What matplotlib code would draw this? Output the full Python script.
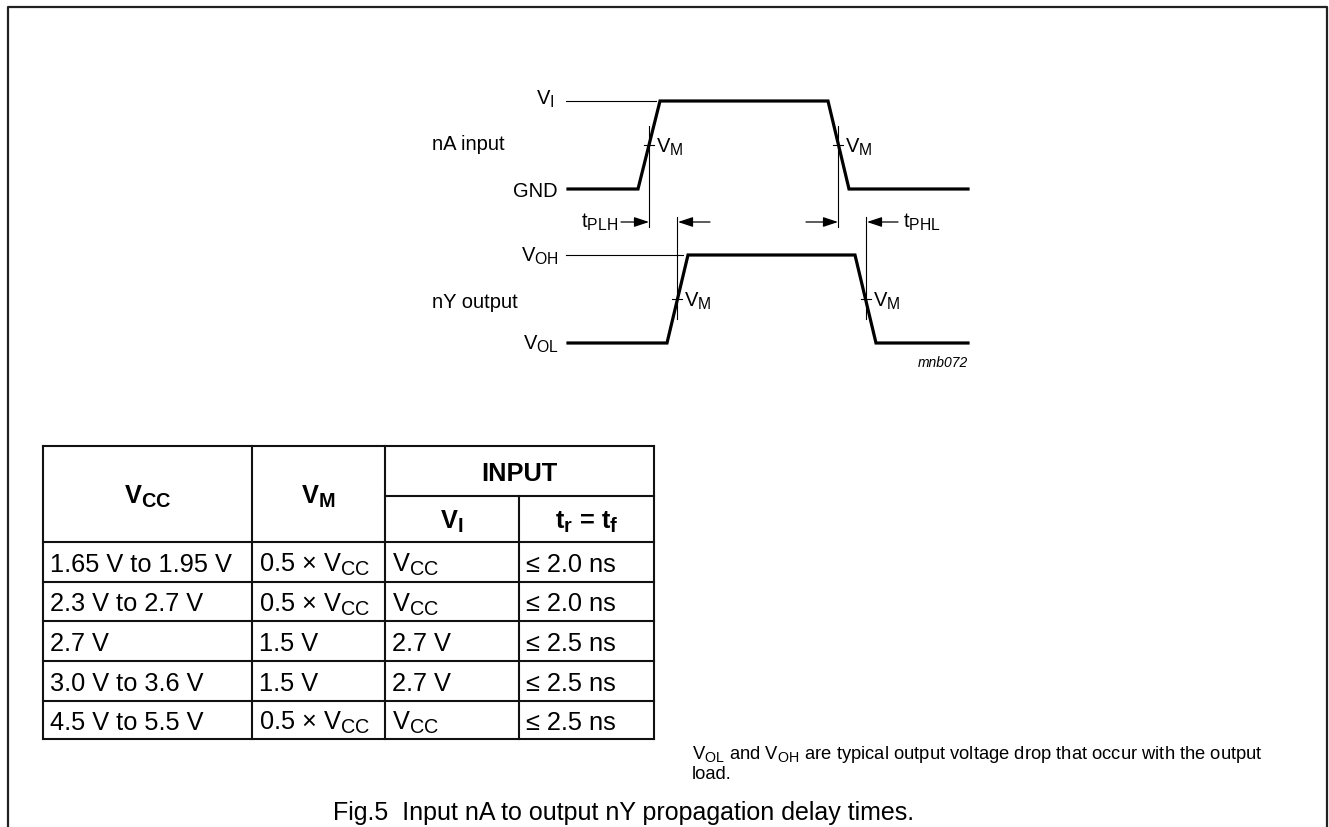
import matplotlib
matplotlib.use("Agg")
import matplotlib.pyplot as plt

try:
    import matplotlib._mathtext as _mt
    _mt.SHRINK_FACTOR = 0.78
except Exception:
    pass

plt.rcParams["font.family"] = ["Liberation Sans", "DejaVu Sans"]
plt.rcParams["mathtext.fontset"] = "custom"
plt.rcParams["mathtext.rm"] = "Liberation Sans"
plt.rcParams["mathtext.it"] = "Liberation Sans:italic"
plt.rcParams["mathtext.bf"] = "Liberation Sans:bold"

# Waveform breakpoints (time axis) and logic levels
in_t = [568, 638, 660, 828, 849, 968]
in_lvl = ["GND", "GND", "VI", "VI", "GND", "GND"]
out_t = [568, 667, 688, 855, 876, 968]
out_lvl = ["VOL", "VOL", "VOH", "VOH", "VOL", "VOL"]
level_y = {"VI": 102, "GND": 190, "VOH": 256, "VOL": 344}
in_vm_t = [649, 838]
out_vm_t = [677, 866]

# Table contents
col_edges = [43, 252, 385, 519, 654]
row_edges = [447, 497, 543, 583, 622, 662, 702, 740]
vcc_ranges = ["1.65 V to 1.95 V", "2.3 V to 2.7 V", "2.7 V", "3.0 V to 3.6 V", "4.5 V to 5.5 V"]
vm_values = [r"0.5 $\times$ V$_\mathrm{CC}$", r"0.5 $\times$ V$_\mathrm{CC}$", "1.5 V", "1.5 V",
             r"0.5 $\times$ V$_\mathrm{CC}$"]
vi_values = [r"V$_\mathrm{CC}$", r"V$_\mathrm{CC}$", "2.7 V", "2.7 V", r"V$_\mathrm{CC}$"]
trtf_values = ["≤ 2.0 ns", "≤ 2.0 ns", "≤ 2.5 ns", "≤ 2.5 ns", "≤ 2.5 ns"]

fig = plt.figure(figsize=(13.29, 8.28), dpi=100)
ax = fig.add_axes([0, 0, 1, 1])
ax.set_xlim(0, 1329)
ax.set_ylim(828, 0)
ax.axis("off")

# frame (open at the bottom)
ax.plot([7.5, 7.5, 1326.5, 1326.5], [828, 7.5, 7.5, 828], color="#222222", lw=1.6)

# thin reference lines for VI and VOH
ax.plot([566, 656], [level_y["VI"]] * 2, color="black", lw=0.8)
ax.plot([566, 683], [level_y["VOH"]] * 2, color="black", lw=0.8)

# waveforms
ax.plot(in_t, [level_y[l] for l in in_lvl], color="black", lw=2.3, solid_joinstyle="miter")
ax.plot(out_t, [level_y[l] for l in out_lvl], color="black", lw=2.3, solid_joinstyle="miter")

vm_in = (level_y["VI"] + level_y["GND"]) / 2
vm_out = (level_y["VOH"] + level_y["VOL"]) / 2
for x in in_vm_t:
    ax.plot([x, x], [127, 228], color="black", lw=0.8)
    ax.plot([x - 5, x + 5], [vm_in, vm_in], color="black", lw=0.8)
for x in out_vm_t:
    ax.plot([x, x], [218, 320], color="black", lw=0.8)
    ax.plot([x - 5, x + 5], [vm_out, vm_out], color="black", lw=0.8)

fs = 14.5
for x in in_vm_t:
    ax.text(x + 7, vm_in + 7, r"V$_\mathrm{M}$", fontsize=fs, va="baseline", ha="left")
for x in out_vm_t:
    ax.text(x + 7, vm_out + 7, r"V$_\mathrm{M}$", fontsize=fs, va="baseline", ha="left")

ax.text(555, level_y["VI"] + 3, r"V$_\mathrm{I}$", fontsize=fs, va="baseline", ha="right")
ax.text(432, 150, "nA input", fontsize=fs, va="baseline", ha="left")
ax.text(558, level_y["GND"] + 7, "GND", fontsize=fs, va="baseline", ha="right")
ax.text(559, level_y["VOH"] + 6, r"V$_\mathrm{OH}$", fontsize=fs, va="baseline", ha="right")
ax.text(432, 308, "nY output", fontsize=fs, va="baseline", ha="left")
ax.text(559, level_y["VOL"] + 6, r"V$_\mathrm{OL}$", fontsize=fs, va="baseline", ha="right")
ax.text(618, 228, r"t$_\mathrm{PLH}$", fontsize=fs, va="baseline", ha="right")
ax.text(903, 228, r"t$_\mathrm{PHL}$", fontsize=fs, va="baseline", ha="left")
ax.text(968, 367, "mnb072", fontsize=10, style="italic", va="baseline", ha="right")

arrow_y = 223
arrows = [(621, in_vm_t[0]), (710, out_vm_t[0] + 1), (806, in_vm_t[1]), (898, out_vm_t[1] + 1)]
for tail, head in arrows:
    ax.annotate("", xy=(head, arrow_y), xytext=(tail, arrow_y),
                arrowprops=dict(arrowstyle="-|>,head_length=0.9,head_width=0.3",
                                lw=0.9, color="black", shrinkA=0, shrinkB=0))

# table grid
tlw = 1.5
tc = "#111111"
x0, x1 = col_edges[0], col_edges[-1]
for y in [row_edges[0]] + row_edges[2:]:
    ax.plot([x0, x1], [y, y], color=tc, lw=tlw)
ax.plot([col_edges[2], x1], [row_edges[1]] * 2, color=tc, lw=tlw)
for i, x in enumerate(col_edges):
    top = row_edges[1] if i == 3 else row_edges[0]
    ax.plot([x, x], [top, row_edges[-1]], color=tc, lw=tlw)

tfs = 18.3
hdr_mid = (row_edges[0] + row_edges[2]) / 2
ax.text((col_edges[0] + col_edges[1]) / 2, hdr_mid + 9, r"$\mathbf{V_{CC}}$", fontsize=tfs,
        ha="center", va="baseline")
ax.text((col_edges[1] + col_edges[2]) / 2, hdr_mid + 9, r"$\mathbf{V_{M}}$", fontsize=tfs,
        ha="center", va="baseline")
ax.text((col_edges[2] + col_edges[4]) / 2, (row_edges[0] + row_edges[1]) / 2 + 9, "INPUT",
        fontsize=tfs, fontweight="bold", ha="center", va="baseline")
sub_mid = (row_edges[1] + row_edges[2]) / 2
ax.text((col_edges[2] + col_edges[3]) / 2, sub_mid + 9, r"$\mathbf{V_{I}}$", fontsize=tfs,
        ha="center", va="baseline")
ax.text((col_edges[3] + col_edges[4]) / 2, sub_mid + 9, r"$\mathbf{t_{r}}$ = $\mathbf{t_{f}}$",
        fontsize=tfs, fontweight="bold", ha="center", va="baseline")

columns = [vcc_ranges, vm_values, vi_values, trtf_values]
for r in range(len(vcc_ranges)):
    yc = (row_edges[r + 2] + row_edges[r + 3]) / 2
    for c, vals in enumerate(columns):
        ax.text(col_edges[c] + 7, yc + 9, vals[r], fontsize=tfs, ha="left", va="baseline")

# note and caption
ax.text(692, 759, r"V$_\mathrm{OL}$ and V$_\mathrm{OH}$ are typical output voltage drop that occur with the output",
        fontsize=13.2, ha="left", va="baseline")
ax.text(692, 779, "load.", fontsize=13.2, ha="left", va="baseline")
ax.text(624, 820, "Fig.5  Input nA to output nY propagation delay times.", fontsize=18,
        ha="center", va="baseline")

fig.savefig("out.png", dpi=100)
